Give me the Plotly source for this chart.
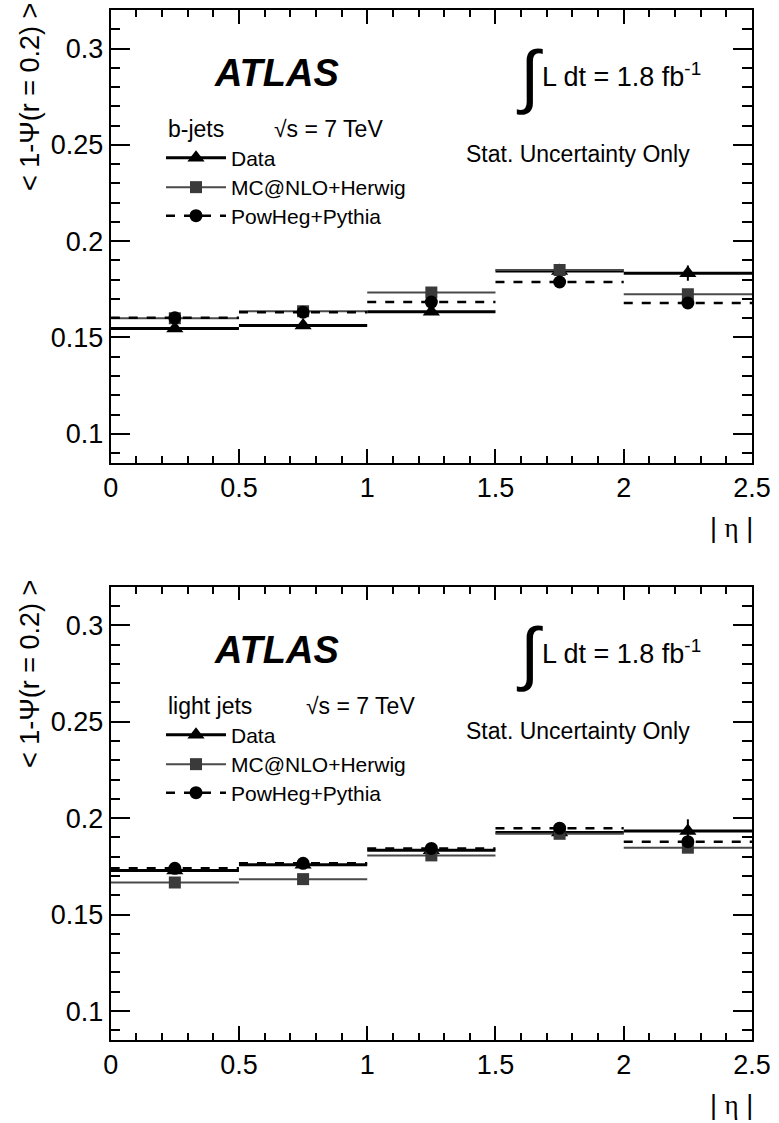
import plotly.graph_objects as go

# ---------------- data ----------------
bin_edges = [0.0, 0.5, 1.0, 1.5, 2.0, 2.5]
bin_centers = [0.25, 0.75, 1.25, 1.75, 2.25]

# b-jets (top panel)
b_data = [0.1547, 0.1562, 0.1633, 0.1845, 0.1834]
b_data_err = [0.0012, 0.0012, 0.0015, 0.0022, 0.0040]
b_mcnlo = [0.1600, 0.1636, 0.1734, 0.1850, 0.1724]
b_powheg = [0.1602, 0.1631, 0.1684, 0.1788, 0.1679]

# light jets (bottom panel)
l_data = [0.1729, 0.1759, 0.1834, 0.1926, 0.1934]
l_data_err = [0.0008, 0.0008, 0.0010, 0.0025, 0.0060]
l_mcnlo = [0.1667, 0.1684, 0.1807, 0.1919, 0.1847]
l_powheg = [0.1740, 0.1766, 0.1843, 0.1948, 0.1878]

x_tick_vals = [0, 0.5, 1, 1.5, 2, 2.5]
x_tick_text = ["0", "0.5", "1", "1.5", "2", "2.5"]
y_tick_vals = [0.1, 0.15, 0.2, 0.25, 0.3]
y_tick_text = ["0.1", "0.15", "0.2", "0.25", "0.3"]

series_names = ["Data", "MC@NLO+Herwig", "PowHeg+Pythia"]

# ---------------- layout helpers ----------------
W, H = 779, 1123
FONT = "Liberation Sans, Arial, Helvetica, sans-serif"


def px(x):
    return x / W


def py(y):
    return 1 - y / H


def segments(vals):
    xs, ys = [], []
    for i, v in enumerate(vals):
        xs += [bin_edges[i], bin_edges[i + 1], None]
        ys += [v, v, None]
    return xs, ys


def gapped(vals):
    xs, ys = [], []
    for c, v in zip(bin_centers, vals):
        xs += [c, None]
        ys += [v, None]
    return xs, ys


def gapped_err(errs):
    out = []
    for e in errs:
        out += [e, 0]
    return out


styles = {
    "Data": dict(color="black", width=3, dash="solid", symbol="triangle-up", msize=15, mcolor="black"),
    "MC@NLO+Herwig": dict(color="#4a4a4a", width=2, dash="solid", symbol="square", msize=12, mcolor="#3a3a3a"),
    "PowHeg+Pythia": dict(color="black", width=2.5, dash="dash", symbol="circle", msize=13, mcolor="black"),
}

fig = go.Figure()

legend_centers = [158, 187.5, 216]  # pixel rows of legend entries (top panel)
panel_offsets = [0, 577]

panels = [
    ("x", "y", ["legend", "legend2", "legend3"], [b_data, b_mcnlo, b_powheg], b_data_err),
    ("x2", "y2", ["legend4", "legend5", "legend6"], [l_data, l_mcnlo, l_powheg], l_data_err),
]

for xa, ya, legs, series, derr in panels:
    for name, vals in zip(series_names, series):
        st = styles[name]
        sx, sy = segments(vals)
        fig.add_trace(go.Scatter(
            x=sx, y=sy, mode="lines", xaxis=xa, yaxis=ya,
            line=dict(color=st["color"], width=st["width"], dash=st["dash"]),
            showlegend=False, hoverinfo="skip",
        ))
    for name, vals, leg in zip(series_names, series, legs):
        st = styles[name]
        gx, gy = gapped(vals)
        kw = {}
        if name == "Data":
            kw["error_y"] = dict(type="data", array=gapped_err(derr), color="black",
                                 thickness=2, width=0, visible=True)
        fig.add_trace(go.Scatter(
            x=gx, y=gy, mode="lines+markers", xaxis=xa, yaxis=ya, name=name,
            line=dict(color=st["color"], width=st["width"], dash=st["dash"]),
            marker=dict(symbol=st["symbol"], size=st["msize"], color=st["mcolor"]),
            legend=leg, **kw,
        ))

xdom = [px(110.7), px(752)]
top_dom = [py(462.7), py(10)]
bot_dom = [py(1040), py(586.7)]

axis_common = dict(
    showline=True, linewidth=2, linecolor="black", mirror="allticks",
    ticks="inside", tickwidth=2, tickcolor="black",
    showgrid=False, zeroline=False, automargin=False,
    tickfont=dict(family=FONT, size=27, color="black"),
)

xcommon = dict(axis_common, range=[0, 2.5], tickvals=x_tick_vals, ticktext=x_tick_text,
               ticklen=13.6, minor=dict(dtick=0.1, tick0=0, ticklen=6.8, ticks="inside",
                                        tickwidth=2, tickcolor="black", showgrid=False))
ycommon = dict(axis_common, range=[0.085, 0.32], tickvals=y_tick_vals, ticktext=y_tick_text,
               ticklen=19, minor=dict(dtick=0.01, tick0=0, ticklen=9.6, ticks="inside",
                                      tickwidth=2, tickcolor="black", showgrid=False))

legend_common = dict(
    bgcolor="rgba(0,0,0,0)", borderwidth=0,
    font=dict(family=FONT, size=21, color="black"),
    xanchor="left", yanchor="middle", itemwidth=60, tracegroupgap=0,
)

legend_layout = {}
names = ["legend", "legend2", "legend3", "legend4", "legend5", "legend6"]
k = 0
for off in panel_offsets:
    for c in legend_centers:
        legend_layout[names[k]] = dict(legend_common, x=px(161), y=py(c + off))
        k += 1

fig.update_layout(
    width=W, height=H,
    margin=dict(l=0, r=0, t=0, b=0, autoexpand=False),
    paper_bgcolor="white", plot_bgcolor="white",
    xaxis=dict(xcommon, domain=xdom, anchor="y"),
    yaxis=dict(ycommon, domain=top_dom, anchor="x"),
    xaxis2=dict(xcommon, domain=xdom, anchor="y2"),
    yaxis2=dict(ycommon, domain=bot_dom, anchor="x2"),
    **legend_layout,
)

annotations = []
for off, label in zip(panel_offsets, ["b-jets", "light jets"]):
    annotations += [
        dict(text="<b><i>ATLAS</i></b>", x=px(276), y=py(73 + off), xanchor="center", yanchor="middle",
             font=dict(family=FONT, size=38, color="black")),
        dict(text="∫", x=px(514), y=py(76 + off), xanchor="left", yanchor="middle",
             font=dict(family="Liberation Sans", size=70, color="black")),
        dict(text="L dt = 1.8 fb<sup>-1</sup>", x=px(540), y=py(75 + off), xanchor="left", yanchor="middle",
             font=dict(family=FONT, size=27, color="black")),
        dict(text=label, x=px(166), y=py(129 + off), xanchor="left", yanchor="middle",
             font=dict(family=FONT, size=23, color="black")),
        dict(text="√s = 7 TeV", x=px(272 if off == 0 else 304), y=py(129 + off), xanchor="left",
             yanchor="middle", font=dict(family=FONT, size=23, color="black")),
        dict(text="Stat. Uncertainty Only", x=px(464), y=py(154 + off), xanchor="left", yanchor="middle",
             font=dict(family=FONT, size=23, color="black")),
        dict(text="< 1-Ψ(r = 0.2) >", x=px(30), y=py(1 + off), xanchor="center", yanchor="top",
             textangle=-90, font=dict(family=FONT, size=27, color="black")),
        dict(text="| <span style=\"font-family:'Liberation Serif'\">η</span> |", x=px(731),
             y=py(528 + off), xanchor="center", yanchor="middle",
             font=dict(family=FONT, size=27, color="black")),
    ]
for a in annotations:
    a.update(xref="paper", yref="paper", showarrow=False)
fig.update_layout(annotations=annotations)

fig.write_html(
    "out.html",
    config={"displayModeBar": False},
    post_script="document.body.style.margin='0px';document.body.style.overflow='hidden';",
)
